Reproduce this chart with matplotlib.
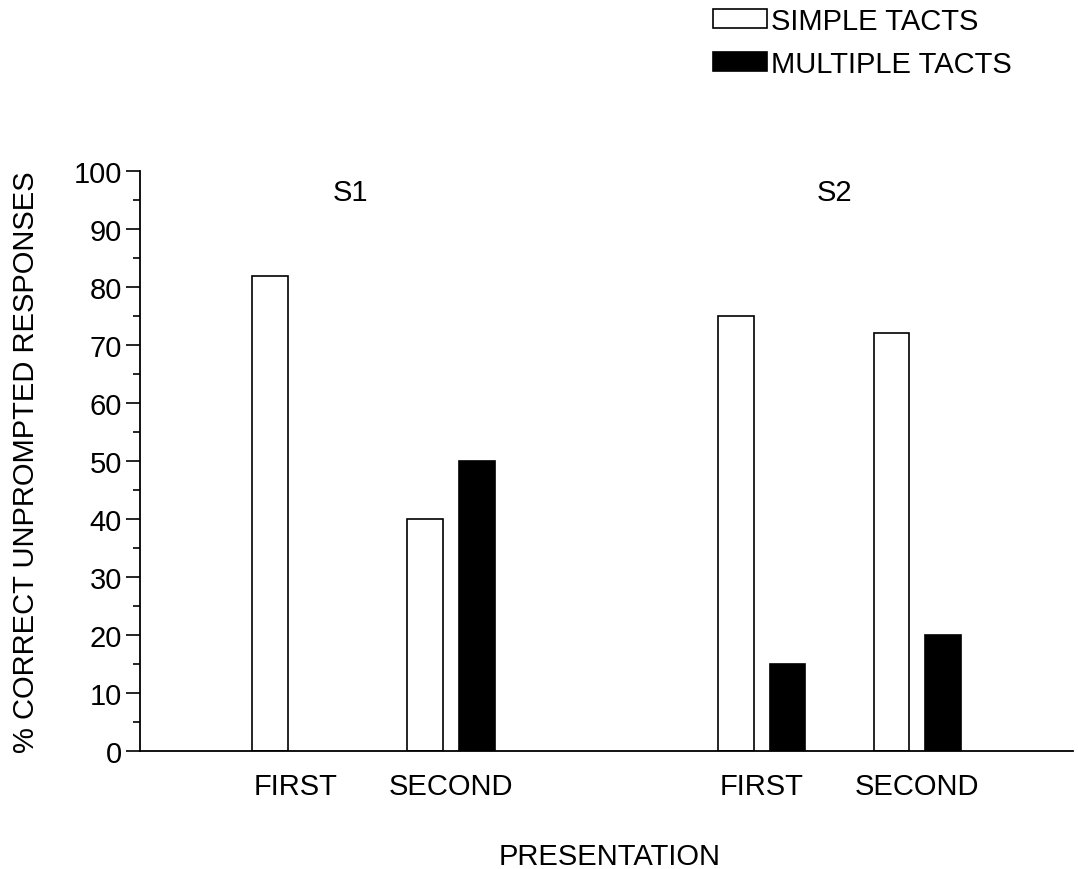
import matplotlib

matplotlib.use("Agg")
import matplotlib.pyplot as plt
import numpy as np
from matplotlib.patches import Patch
from matplotlib.ticker import MultipleLocator

# data
presentations = ["FIRST", "SECOND", "FIRST", "SECOND"]
subjects = ["S1", "S2"]
simple_tacts = [82, 40, 75, 72]
multiple_tacts = [np.nan, 50, 15, 20]  # S1 first presentation: no multiple-tact bar

plt.rcParams["font.family"] = ["Liberation Sans", "DejaVu Sans"]
FS = 21

x = np.array([0, 1, 3, 4], dtype=float)
width = 0.23
off = 0.166

W, H = 1078, 870
fig = plt.figure(figsize=(W / 100, H / 100), dpi=100)
ax = fig.add_axes([0.13, 0.136, 0.865, 0.666])

ax.bar(x - off, simple_tacts, width, facecolor="white", edgecolor="black", linewidth=1.2)
ax.bar(x + off, multiple_tacts, width, facecolor="black", edgecolor="black", linewidth=1.2)

ax.set_xlim(-1, 5)
ax.set_ylim(0, 100)
ax.yaxis.set_major_locator(MultipleLocator(10))
ax.yaxis.set_minor_locator(MultipleLocator(5))
ax.tick_params(axis="y", which="major", length=10, width=1.2, labelsize=FS, pad=3)
ax.tick_params(axis="y", which="minor", length=5, width=1.2)
ax.set_xticks(x, presentations)
ax.tick_params(axis="x", length=0, labelsize=FS, pad=15)

for side in ("top", "right"):
    ax.spines[side].set_visible(False)
for side in ("left", "bottom"):
    ax.spines[side].set_linewidth(1.3)

ax.set_ylabel("% CORRECT UNPROMPTED RESPONSES", fontsize=FS)
ax.yaxis.set_label_coords((40 - 140) / (0.865 * W), 0.5)
fig.text(610 / W, 1 - 857 / H, "PRESENTATION", fontsize=FS, ha="center", va="center")

ax.text(0.35, 96.5, subjects[0], fontsize=FS, ha="center", va="center")
ax.text(3.47, 96.5, subjects[1], fontsize=FS, ha="center", va="center")

handles = [
    Patch(facecolor="white", edgecolor="black", linewidth=1.2, label="SIMPLE TACTS"),
    Patch(facecolor="black", edgecolor="black", linewidth=1.2, label="MULTIPLE TACTS"),
]
fig.legend(handles=handles, loc="upper left", bbox_to_anchor=(713 / W, 1 - 8 / H),
           frameon=False, fontsize=FS, handlelength=1.85, handleheight=0.6,
           handletextpad=0.15, labelspacing=0.5, borderaxespad=0, borderpad=0)

fig.savefig("out.png", dpi=100)
plt.close(fig)
